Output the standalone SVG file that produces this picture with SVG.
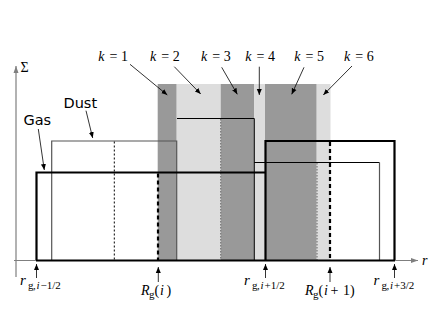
<svg xmlns="http://www.w3.org/2000/svg" width="436" height="331" viewBox="0 0 436 331">
<style>
.bd{fill:#999999}
.bl{fill:#dddddd}
.gas{fill:none;stroke:#000;stroke-width:2.2}
.dust{fill:none;stroke:#000;stroke-width:1}
.dustg{fill:none;stroke:#555;stroke-width:1.2}
.dot{stroke:#000;stroke-width:1;stroke-dasharray:2,2}
.dotg{stroke:#777;stroke-width:1.2;stroke-dasharray:1.5,1.5}
.dash{stroke:#000;stroke-width:2.2;stroke-dasharray:4,3}
.axis{stroke:#7f7f7f;stroke-width:1.2;fill:none}
.conn{stroke:#000;stroke-width:0.8;fill:none;marker-end:url(#ah)}
.m{font-family:"Liberation Serif","DejaVu Serif",serif;font-size:14px;fill:#000}
.it{font-style:italic}
.s{font-size:11px}
.sans{font-family:"DejaVu Sans","Liberation Sans",sans-serif;font-size:14.5px;fill:#000}
</style>
<defs>
<marker id="ah" markerWidth="7" markerHeight="6" refX="6" refY="3" orient="auto" markerUnits="userSpaceOnUse">
<path d="M0,0.5 L6,3 L0,5.5 Z" fill="#000"/>
</marker>
<marker id="ahg" markerWidth="8" markerHeight="6" refX="7" refY="3" orient="auto" markerUnits="userSpaceOnUse">
<path d="M0,0.5 L7,3 L0,5.5 Z" fill="#7f7f7f"/>
</marker>
</defs>
<rect width="436" height="331" fill="#fff"/>
<g id="bands">
<rect id="k1" class="bd" x="157.7" y="84" width="19" height="176"/>
<rect id="k2" class="bl" x="176.7" y="84" width="44" height="176"/>
<rect id="k3" class="bd" x="220.7" y="84" width="33.6" height="176"/>
<rect id="k4" class="bl" x="254.3" y="84" width="10.7" height="176"/>
<rect id="k5" class="bd" x="265" y="84" width="51.7" height="176"/>
<rect id="k6" class="bl" x="316.7" y="84" width="13.8" height="176"/>
</g>
<g id="dust-cells">
<path id="dust1" class="dustg" d="M51.7,260 V141 H176.7 V260"/>
<path id="dust2" class="dust" d="M177,118.5 H254.3 V260"/>
<path id="dust3" class="dust" d="M254.3,162.5 H379.5"/>
<path class="dustg" d="M379.5,162.5 V260"/>
<line class="dot" x1="114.3" y1="141.5" x2="114.3" y2="260"/>
<line class="dotg" x1="220.7" y1="119" x2="220.7" y2="260"/>
<line class="dotg" x1="317" y1="163" x2="317" y2="260"/>
</g>
<g id="gas-cells">
<path id="gas1" class="gas" d="M36.5,260 V172.5 H265.5"/>
<path id="gas2" class="gas" d="M265.5,260 V141 H394.5 V260"/>
<line class="dash" x1="158" y1="173.6" x2="158" y2="260"/>
<line class="dash" x1="330" y1="142.1" x2="330" y2="260"/>
</g>
<g id="axes">
<line class="axis" x1="16" y1="277" x2="16" y2="66" marker-end="url(#ahg)"/>
<line class="axis" x1="14" y1="260.5" x2="418" y2="260.5" marker-end="url(#ahg)"/>
<line x1="36" y1="260.5" x2="395" y2="260.5" stroke="#000" stroke-width="2.2"/>
<text class="m" x="20.5" y="71.5" font-size="16">Σ</text>
<text class="m it" x="422" y="264.5" font-size="15">r</text>
</g>
<g id="labels">
<text class="sans" x="23.5" y="125">Gas</text>
<text class="sans" x="63.5" y="107.5">Dust</text>
<text class="m" y="61"><tspan class="it" x="98.3">k</tspan><tspan x="109.5">=</tspan><tspan x="121">1</tspan></text>
<text class="m" y="61"><tspan class="it" x="150">k</tspan><tspan x="161.2">=</tspan><tspan x="172.7">2</tspan></text>
<text class="m" y="61"><tspan class="it" x="201">k</tspan><tspan x="212.2">=</tspan><tspan x="223.7">3</tspan></text>
<text class="m" y="61"><tspan class="it" x="245.3">k</tspan><tspan x="256.5">=</tspan><tspan x="268">4</tspan></text>
<text class="m" y="61"><tspan class="it" x="294.3">k</tspan><tspan x="305.5">=</tspan><tspan x="317">5</tspan></text>
<text class="m" y="61"><tspan class="it" x="344">k</tspan><tspan x="355.2">=</tspan><tspan x="366.7">6</tspan></text>
<text class="m" y="285"><tspan class="it" x="20" font-size="15">r</tspan><tspan class="s" x="28" y="288.5">g</tspan><tspan class="s" x="33">,</tspan><tspan class="s it" x="36.5">i</tspan><tspan class="s" x="40.5">−1/2</tspan></text>
<text class="m" y="285"><tspan class="it" x="244" font-size="15">r</tspan><tspan class="s" x="252" y="288.5">g</tspan><tspan class="s" x="257">,</tspan><tspan class="s it" x="260.5">i</tspan><tspan class="s" x="264.5">+1/2</tspan></text>
<text class="m" y="285"><tspan class="it" x="373.5" font-size="15">r</tspan><tspan class="s" x="381.5" y="288.5">g</tspan><tspan class="s" x="386.5">,</tspan><tspan class="s it" x="390">i</tspan><tspan class="s" x="394">+3/2</tspan></text>
<text class="m" y="295"><tspan class="it" x="141">R</tspan><tspan class="s" x="149" y="297.5">g</tspan><tspan x="154.5" y="295">(</tspan><tspan class="it" x="160">i</tspan><tspan x="166.5">)</tspan></text>
<text class="m" y="295"><tspan class="it" x="305">R</tspan><tspan class="s" x="313" y="297.5">g</tspan><tspan x="318.5" y="295">(</tspan><tspan class="it" x="324">i</tspan><tspan x="330.5">+</tspan><tspan x="343">1</tspan><tspan x="350">)</tspan></text>
</g>
<g id="connectors">
<line class="conn" x1="38.3" y1="129" x2="44.3" y2="170"/>
<line class="conn" x1="86" y1="110.7" x2="92.7" y2="138"/>
<line class="conn" x1="130" y1="64.3" x2="167.3" y2="95"/>
<line class="conn" x1="174.3" y1="66.7" x2="200.7" y2="94"/>
<line class="conn" x1="221.7" y1="67.3" x2="237.3" y2="94.3"/>
<line class="conn" x1="259.3" y1="66.7" x2="259.3" y2="95"/>
<line class="conn" x1="304" y1="67.3" x2="291.7" y2="94.3"/>
<line class="conn" x1="352" y1="66" x2="323.3" y2="95"/>
<line class="conn" x1="36.5" y1="278" x2="36.5" y2="264"/>
<line class="conn" x1="158.3" y1="282" x2="158.3" y2="267"/>
<line class="conn" x1="265.5" y1="278" x2="265.5" y2="264"/>
<line class="conn" x1="330" y1="282" x2="330" y2="267"/>
<line class="conn" x1="394.5" y1="278" x2="394.5" y2="264"/>
</g>
</svg>
